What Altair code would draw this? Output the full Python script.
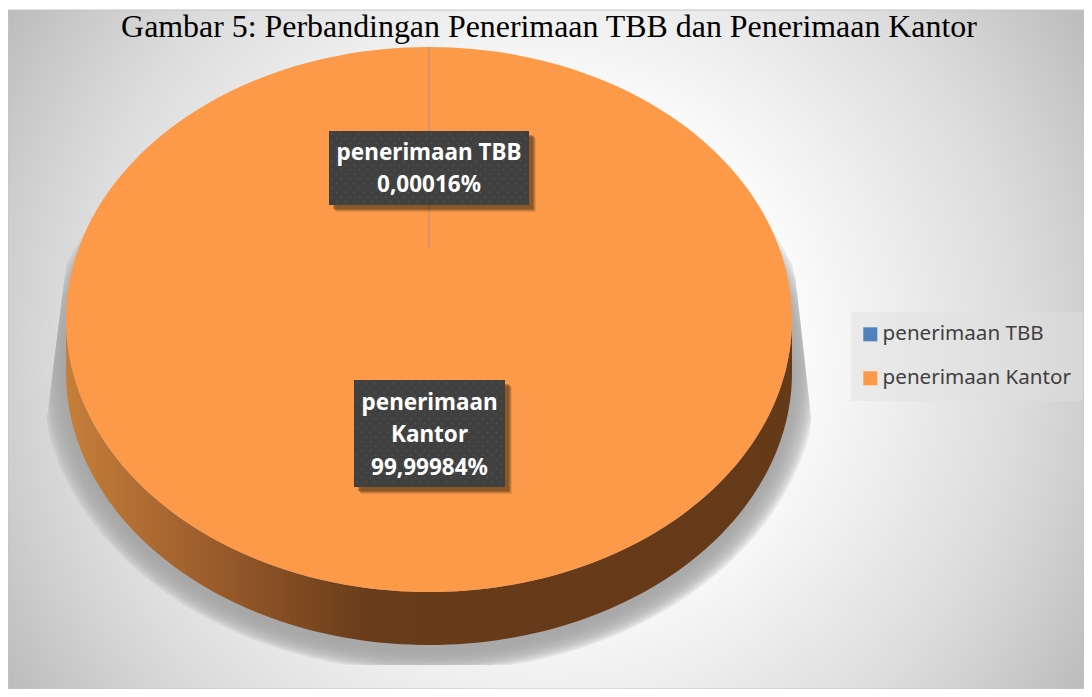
import altair as alt
import pandas as pd
import math

title_text = "Gambar 5: Perbandingan Penerimaan TBB dan Penerimaan Kantor"
categories = ["penerimaan TBB", "penerimaan Kantor"]
shares = [0.00016, 99.99984]
colors = ["#4F81BD", "#FD9A4A"]

W, H = 1076, 681
def px(v): return v - 8
def py(v): return v - 8

CX, CY, RX, RY = 429, 319.5, 363, 272.5
APEX_Y = 248
DEPTH = 53
R = 400
SIZE = (2 * R) ** 2

def pts_to_path(pts):
    return "M" + "L".join(f"{x/R:.4f},{y/R:.4f}" for x, y in pts) + "Z"

def ell(a, dy=0):
    return (RX * math.sin(a), -RY * math.cos(a) + dy)

def wedge(start, end):
    n = max(2, int((end - start) / 100 * 200))
    angs = [2 * math.pi * (start + (end - start) * i / n) / 100 for i in range(n + 1)]
    return pts_to_path([(0, APEX_Y - CY)] + [ell(a) for a in angs])

cum = 0
rows = []
for c, s in zip(categories, shares):
    rows.append({"category": c, "share": s, "path": wedge(cum, cum + s)})
    cum += s
pie_df = pd.DataFrame(rows)

def sym(path, cx, cy, size=SIZE, op=1, **kw):
    return alt.Chart(pd.DataFrame({"a": [0]})).mark_point(
        shape=path, size=size, filled=True, opacity=op, **kw
    ).encode(x=alt.value(px(cx)), y=alt.value(py(cy)))

def grad_stop(o, c):
    return alt.GradientStop(offset=o, color=c)

# background
bg = alt.Chart(pd.DataFrame({"a": [0]})).mark_rect(
    stroke="#c4c4c4", strokeWidth=1,
    fill=alt.RadialGradient(
        gradient="radial", x1=0.5, y1=0.5, r1=0, x2=0.5, y2=0.5, r2=0.59,
        stops=[grad_stop(0, "#ffffff"), grad_stop(0.35, "#ffffff"), grad_stop(0.55, "#eeeeee"),
               grad_stop(0.75, "#dcdcdc"), grad_stop(0.85, "#d0d0d0"), grad_stop(1, "#bcbcbc")],
    ),
).encode(x=alt.value(0), x2=alt.value(W), y=alt.value(py(10)), y2=alt.value(H))

title = alt.Chart(pd.DataFrame({"t": [title_text]})).mark_text(
    font="Liberation Serif", fontSize=31.9, color="#000000", baseline="alphabetic", align="center"
).encode(x=alt.value(px(549)), y=alt.value(py(37)), text="t:N")

# floor shadow: stacked translucent ellipses kept inside a trapezoid
def shadow_ring(k):
    pts = []
    for i in range(121):
        a = 2 * math.pi * i / 120
        x = 429 + 389 * k * math.sin(a)
        y = 372 - 300 * k * math.cos(a)
        y = min(y, 665)
        left = 68 - (y - 250) * 28 / 225
        right = 790 + (y - 230) * 28 / 250
        x = max(min(x, right), left)
        pts.append((x - 429, y - 372))
    return sym(pts_to_path(pts), 429, 372, op=0.2, fill="#a6a6a6")

shadows = [shadow_ring(1 - 0.006 * i) for i in range(12)]

# side wall
ang = [math.pi / 2 + math.pi * i / 120 for i in range(121)]
wall_pts = [ell(a) for a in ang] + [ell(a, DEPTH) for a in reversed(ang)]
wall = sym(pts_to_path(wall_pts), CX, CY, fill=alt.LinearGradient(
    gradient="linear", x1=0, y1=0, x2=1, y2=0,
    stops=[grad_stop(0, "#C67E3A"), grad_stop(0.22, "#96592A"), grad_stop(0.42, "#683B19"), grad_stop(1, "#653A18")],
))

# pie top face, from the shares
pie = alt.Chart(pie_df).mark_point(filled=True, opacity=1).encode(
    x=alt.value(px(CX)), y=alt.value(py(CY)),
    size=alt.value(SIZE),
    shape=alt.Shape("path:N", scale=None, legend=None),
    color=alt.Color(
        "category:N",
        scale=alt.Scale(domain=categories, range=colors),
        legend=alt.Legend(
            title=None, orient="none", legendX=px(851), legendY=py(312), symbolType="square",
            symbolSize=196, symbolStrokeWidth=0, symbolOpacity=1, symbolOffset=-3,
            labelFont="Noto Sans", labelFontSize=20.6,
            labelColor="#404040", fillColor="rgba(225,225,225,0.45)", padding=12, rowPadding=23,
            labelOffset=2, labelLimit=300,
        ),
    ),
)
tbb_line = alt.Chart(pie_df[pie_df["category"] == categories[0]]).mark_point(
    filled=False, opacity=0.5, stroke="#a08f80", strokeWidth=1
).encode(
    x=alt.value(px(CX)), y=alt.value(py(CY)), size=alt.value(SIZE),
    shape=alt.Shape("path:N", scale=None, legend=None),
)

def fmt(s):
    return f"{s:.5f}".rstrip("0").replace(".", ",") + "%"

def label(x0, y0, x1, y1, lines, ys):
    out = []
    for off, op in [(7, 0.15), (6, 0.22), (5, 0.3), (4, 0.35)]:
        out.append(alt.Chart(pd.DataFrame({"a": [0]})).mark_rect(color="#5a3a1c", opacity=op).encode(
            x=alt.value(px(x0 + off)), x2=alt.value(px(x1 + off)),
            y=alt.value(py(y0 + off)), y2=alt.value(py(y1 + off))))
    out.append(alt.Chart(pd.DataFrame({"a": [0]})).mark_rect(color="#404040").encode(
        x=alt.value(px(x0)), x2=alt.value(px(x1)), y=alt.value(py(y0)), y2=alt.value(py(y1))))
    dots = []
    j = 0
    yy = y0 + 3
    while yy < y1 - 1:
        xx = x0 + 3 + (4.5 if j % 2 else 0)
        while xx < x1 - 1:
            dots.append({"x": px(xx), "y": py(yy)})
            xx += 9
        yy += 4.5
        j += 1
    out.append(alt.Chart(pd.DataFrame(dots)).mark_point(filled=True, color="#535353", size=3, opacity=1).encode(
        x=alt.X("x:Q", scale=None, axis=None), y=alt.Y("y:Q", scale=None, axis=None)))
    for t, y in zip(lines, ys):
        out.append(alt.Chart(pd.DataFrame({"t": [t]})).mark_text(
            font="Noto Sans", fontWeight="bold", fontSize=22.5, color="#ffffff", align="center", baseline="middle"
        ).encode(x=alt.value(px((x0 + x1) / 2)), y=alt.value(py(y)), text="t:N"))
    return out

lab1 = label(329, 131, 529, 205, [categories[0], fmt(shares[0])], [153, 185])
lab2 = label(354, 380, 505, 487, categories[1].split(" ") + [fmt(shares[1])], [403, 435, 468])

chart = alt.layer(bg, title, *shadows, wall, pie, tbb_line, *lab1, *lab2).properties(
    width=W, height=H, padding=0, autosize=alt.AutoSizeParams(type="none")
).configure_view(stroke=None).resolve_scale(x="independent", y="independent")

chart.save("out.html", embed_options={"renderer": "svg", "actions": False})
